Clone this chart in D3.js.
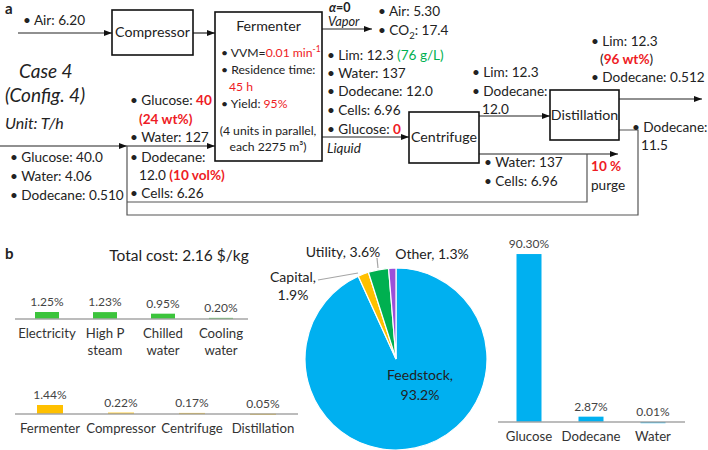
<!DOCTYPE html>
<html><head><meta charset="utf-8">
<script src="https://cdn.jsdelivr.net/npm/d3@7"></script>
<style>
html,body{margin:0;padding:0;background:#fff;}
svg{display:block;font-family:Lato,"Open Sans",sans-serif;}
</style></head>
<body>
<svg id="c" width="708" height="450"></svg>
<script>
// ---------- data ----------
const utilCats = ["Electricity", "High P|steam", "Chilled|water", "Cooling|water"];
const utilVals = [1.25, 1.23, 0.95, 0.20];
const capCats = ["Fermenter", "Compressor", "Centrifuge", "Distillation"];
const capVals = [1.44, 0.22, 0.17, 0.05];
const pieCats = ["Feedstock", "Capital", "Utility", "Other"];
const pieVals = [93.2, 1.9, 3.6, 1.3];
const feedCats = ["Glucose", "Dodecane", "Water"];
const feedVals = [90.30, 2.87, 0.01];
const totalCost = "Total cost: 2.16 $/kg";

const RED = "#ee1c25", GREEN = "#00b050", TXT = "#222";
const FS = 13.6;
const svg = d3.select("#c");

// arrow marker
svg.append("defs").append("marker").attr("id","ah")
  .attr("viewBox","0 0 8 6").attr("refX",8).attr("refY",3)
  .attr("markerWidth",8).attr("markerHeight",6).attr("markerUnits","userSpaceOnUse")
  .attr("orient","auto").append("path").attr("d","M0,0L8,3L0,6Z").attr("fill","#111");

function rich(g, x, y, segs, o = {}) {
  const t = g.append("text").attr("x", x).attr("y", y).attr("dy", "0.35em")
    .attr("font-size", o.size || FS).attr("fill", TXT)
    .attr("text-anchor", o.anchor || "start");
  if (o.italic) t.attr("font-style", "italic");
  if (o.bold) t.attr("font-weight", "bold");
  segs.forEach(s => {
    if (typeof s === "string") s = [s];
    const ts = t.append("tspan").text(s[0]);
    if (s[1]) ts.attr("fill", s[1]);
    if (s[2]) Object.entries(s[2]).forEach(([k, v]) => ts.attr(k, v));
  });
  return t;
}
function line(g, pts, arrow, color) {
  g.append("path").attr("d", d3.line()(pts)).attr("fill", "none")
    .attr("stroke", color || "#222").attr("stroke-width", 1.2)
    .attr("marker-end", arrow ? "url(#ah)" : null);
}
function box(g, x, y, w, h, label, ty) {
  g.append("rect").attr("x", x).attr("y", y).attr("width", w).attr("height", h)
    .attr("fill", "#fff").attr("stroke", "#111").attr("stroke-width", 1.6);
  rich(g, x + w / 2, ty != null ? ty : y + h / 2, [label], {size: 14.2, anchor: "middle"});
}

// ---------- panel a : process diagram ----------
const A = svg.append("g");
rich(A, 5, 9, ["a"], {bold: true, size: 15});

// streams
line(A, [[18, 33], [112, 33]], true);
line(A, [[193, 33], [215, 33]], true);
line(A, [[322, 29], [372, 29]], true);
line(A, [[322, 137], [409, 137]], true);
line(A, [[479, 116], [550, 116]], true);
line(A, [[619, 99], [702, 99]], true);
line(A, [[479, 154], [618, 154]], true);
line(A, [[0, 146], [127, 146]], true);
line(A, [[127, 146], [215, 146]], true);
line(A, [[587, 154], [587, 202], [127, 202]], false, "#555");
line(A, [[619, 130], [638, 130], [638, 215], [127, 215], [127, 146]], false, "#555");

box(A, 112, 10, 81, 45, "Compressor");
box(A, 215, 12, 107, 149, "Fermenter", 26);
box(A, 409, 112, 70, 51, "Centrifuge");
box(A, 550, 90, 69, 50, "Distillation");

rich(A, 23, 20, ["• Air: 6.20"]);
// fermenter contents
const FF = 12.2;
rich(A, 221, 53, ["• VVM=", ["0.01 min", RED], ["-1", RED, {"font-size": 8.5, dy: -5}]], {size: FF});
rich(A, 221, 70, ["• Residence time:"], {size: FF});
rich(A, 229, 87, [["45 h", RED]], {size: FF});
rich(A, 221, 104, ["• Yield: ", ["95%", RED]], {size: FF});
rich(A, 268, 131, ["(4 units in parallel,"], {size: FF, anchor: "middle"});
rich(A, 268, 147, ["each 2275 m³)"], {size: FF, anchor: "middle"});

rich(A, 329, 7.2, [["α", null, {"font-style": "italic"}], "=0"], {size: 12.5, bold: true});
rich(A, 328, 21.8, ["Vapor"], {italic: true, size: 12.8});
rich(A, 378, 11, ["• Air: 5.30"]);
rich(A, 378, 30, ["• CO", ["2", null, {"font-size": 9.5, dy: 4}], [": 17.4", null, {dy: -4}]]);

rich(A, 327, 55, ["• Lim: 12.3 ", ["(76 g/L)", GREEN]]);
rich(A, 327, 73, ["• Water: 137"]);
rich(A, 327, 91, ["• Dodecane: 12.0"]);
rich(A, 327, 110, ["• Cells: 6.96"]);
rich(A, 327, 129, ["• Glucose: ", ["0", RED, {"font-weight": "bold"}]]);
rich(A, 327, 148, ["Liquid"], {italic: true, size: 13.5});

rich(A, 472, 72, ["• Lim: 12.3"]);
rich(A, 472, 91, ["• Dodecane:"]);
rich(A, 482, 109, ["12.0"]);

rich(A, 591, 41, ["• Lim: 12.3"]);
rich(A, 600, 59, ["(", ["96 wt%", RED, {"font-weight": "bold"}], ")"]);
rich(A, 591, 77, ["• Dodecane: 0.512"]);

rich(A, 632, 127, ["• Dodecane:"]);
rich(A, 641, 145, ["11.5"]);

rich(A, 484, 162, ["• Water: 137"]);
rich(A, 484, 181, ["• Cells: 6.96"]);
rich(A, 591, 166, [["10 %", RED, {"font-weight": "bold"}]]);
rich(A, 591, 185, ["purge"]);

rich(A, 19, 71, ["Case 4"], {italic: true, size: 19});
rich(A, 5, 95, ["(Config. 4)"], {italic: true, size: 19});
rich(A, 5, 123, ["Unit: T/h"], {italic: true, size: 16});

rich(A, 130, 100, ["• Glucose: ", ["40", RED, {"font-weight": "bold"}]]);
rich(A, 139, 119, [["(24 wt%)", RED, {"font-weight": "bold"}]]);
rich(A, 130, 137, ["• Water: 127"]);
rich(A, 130, 157, ["• Dodecane:"]);
rich(A, 139, 175, ["12.0 ", ["(10 vol%)", RED, {"font-weight": "bold"}]]);
rich(A, 130, 193, ["• Cells: 6.26"]);

rich(A, 10, 157, ["• Glucose: 40.0"]);
rich(A, 10, 176, ["• Water: 4.06"]);
rich(A, 10, 195, ["• Dodecane: 0.510"]);

// ---------- panel b ----------
const B = svg.append("g");
rich(B, 5, 254, ["b"], {bold: true, size: 15});
rich(B, 179, 256, [totalCost], {size: 15.5, anchor: "middle"});

function barChart(cats, vals, xr, y0, ytop, vmax, color, bw, base) {
  const x = d3.scaleBand().domain(cats).range(xr);
  const y = d3.scaleLinear().domain([0, vmax]).range([y0, ytop]);
  const g = B.append("g");
  g.selectAll("rect").data(vals).join("rect")
    .attr("x", (d, i) => x(cats[i]) + x.bandwidth() / 2 - bw / 2)
    .attr("width", bw)
    .attr("y", d => y(d)).attr("height", d => Math.max(y0 - y(d), 1.2))
    .attr("fill", color);
  g.append("line").attr("x1", base[0]).attr("x2", base[1]).attr("y1", y0).attr("y2", y0)
    .attr("stroke", "#a6a6a6").attr("stroke-width", 1.5);
  vals.forEach((d, i) => {
    rich(g, x(cats[i]) + x.bandwidth() / 2, y(d) - 10, [d.toFixed(2) + "%"],
      {size: 12, anchor: "middle"}).attr("fill", "#444");
    cats[i].split("|").forEach((s, j) => {
      rich(g, x(cats[i]) + x.bandwidth() / 2, y0 + 14 + j * 17, [s],
        {size: 13.2, anchor: "middle"}).attr("fill", "#333");
    });
  });
}
barChart(utilCats, utilVals, [18, 250], 319, 310.6, 1.5, "#3cc43c", 24, [15, 248]);
barChart(capCats, capVals, [14.5, 298.5], 414, 404, 1.6, "#ffc000", 26, [15, 298]);
barChart(feedCats, feedVals, [498, 684], 422, 236, 100, "#00b0f0", 25, [498, 685]);

// pie
const pieColors = ["#00b0f0", "#ffc000", "#00b050", "#9b4fd8"];
const pie = d3.pie().sort(null).value(d => d)(pieVals);
const arc = d3.arc().innerRadius(0).outerRadius(91);
const P = B.append("g").attr("transform", "translate(396,359)");
P.selectAll("path").data(pie).join("path").attr("d", arc)
  .attr("fill", (d, i) => pieColors[i]).attr("stroke", "#fff").attr("stroke-width", 1.2);

rich(B, 420, 375, [pieCats[0] + ","], {size: 14, anchor: "middle"});
rich(B, 420, 395, [pieVals[0].toFixed(1) + "%"], {size: 14, anchor: "middle"});
rich(B, 293, 277, [pieCats[1] + ","], {size: 14, anchor: "middle"});
rich(B, 293, 295, [pieVals[1].toFixed(1) + "%"], {size: 14, anchor: "middle"});
rich(B, 343, 252, [pieCats[2] + ", " + pieVals[2].toFixed(1) + "%"], {size: 14, anchor: "middle"});
rich(B, 432, 254, [pieCats[3] + ", " + pieVals[3].toFixed(1) + "%"], {size: 14, anchor: "middle"});
line(B, [[318, 280], [358, 273]], false, "#a6a6a6");
line(B, [[377, 258], [378, 268]], false, "#a6a6a6");
</script>
</body></html>
